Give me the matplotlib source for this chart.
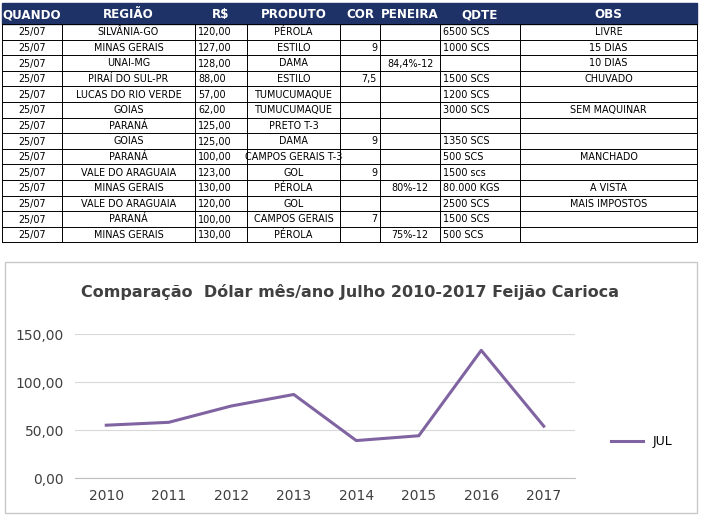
import matplotlib.pyplot as plt
from matplotlib.patches import Rectangle

W, H = 701, 516

headers = ["QUANDO", "REGIÃO", "R$", "PRODUTO", "COR", "PENEIRA", "QDTE", "OBS"]
datas = ["25/07"] * 14
regioes = ["SILVÂNIA-GO", "MINAS GERAIS", "UNAI-MG", "PIRAÍ DO SUL-PR", "LUCAS DO RIO VERDE",
           "GOIAS", "PARANÁ", "GOIAS", "PARANÁ", "VALE DO ARAGUAIA", "MINAS GERAIS",
           "VALE DO ARAGUAIA", "PARANÁ", "MINAS GERAIS"]
precos = ["120,00", "127,00", "128,00", "88,00", "57,00", "62,00", "125,00", "125,00",
          "100,00", "123,00", "130,00", "120,00", "100,00", "130,00"]
produtos = ["PÉROLA", "ESTILO", "DAMA", "ESTILO", "TUMUCUMAQUE", "TUMUCUMAQUE", "PRETO T-3",
            "DAMA", "CAMPOS GERAIS T-3", "GOL", "PÉROLA", "GOL", "CAMPOS GERAIS", "PÉROLA"]
cores = ["", "9", "", "7,5", "", "", "", "9", "", "9", "", "", "7", ""]
peneiras = ["", "", "84,4%-12", "", "", "", "", "", "", "", "80%-12", "", "", "75%-12"]
qtdes = ["6500 SCS", "1000 SCS", "", "1500 SCS", "1200 SCS", "3000 SCS", "", "1350 SCS",
         "500 SCS", "1500 scs", "80.000 KGS", "2500 SCS", "1500 SCS", "500 SCS"]
obs = ["LIVRE", "15 DIAS", "10 DIAS", "CHUVADO", "", "SEM MAQUINAR", "", "", "MANCHADO",
       "", "A VISTA", "MAIS IMPOSTOS", "", ""]

anos = ["2010", "2011", "2012", "2013", "2014", "2015", "2016", "2017"]
jul = [55, 58, 75, 87, 39, 44, 133, 54]

fig = plt.figure(figsize=(W / 100, H / 100), dpi=100)
fig.patch.set_facecolor("white")

# --- tabela (coordenadas em pixels) ---
tab = fig.add_axes([0, 0, 1, 1])
tab.set_xlim(0, W)
tab.set_ylim(H, 0)
tab.axis("off")

col_x = [2, 62, 195, 247, 340, 380, 440, 520, 697]
col_align = ["center", "center", "left", "center", "right", "center", "left", "center"]
top, head_h, row_h = 3, 21, 15.6
tab.add_patch(Rectangle((col_x[0], top), col_x[-1] - col_x[0], head_h, color="#1f3267"))
for i, h in enumerate(headers):
    tab.text((col_x[i] + col_x[i + 1]) / 2, top + head_h / 2 + 1, h, color="white",
             fontsize=8.6, fontweight="bold", ha="center", va="center")

colunas = [datas, regioes, precos, produtos, cores, peneiras, qtdes, obs]
y0 = top + head_h
n = len(datas)
for r in range(n + 1):
    tab.plot([col_x[0], col_x[-1]], [y0 + r * row_h] * 2, color="black", lw=0.7)
for x in col_x:
    tab.plot([x, x], [y0, y0 + n * row_h], color="black", lw=0.7)
for c, vals in enumerate(colunas):
    for r, v in enumerate(vals):
        al = col_align[c]
        if al == "center":
            x = (col_x[c] + col_x[c + 1]) / 2
        elif al == "left":
            x = col_x[c] + 3
        else:
            x = col_x[c + 1] - 3
        tab.text(x, y0 + r * row_h + row_h / 2 + 0.5, v, fontsize=6.9, ha=al, va="center")

# moldura do gráfico
tab.add_patch(Rectangle((5, 262), 692, 251, fill=False, ec="#c8c8c8", lw=1))
tab.text(350, 292, "Comparação  Dólar mês/ano Julho 2010-2017 Feijão Carioca",
         fontsize=11.5, fontweight="semibold", ha="center", va="center", color="#404040")

# --- gráfico de linha ---
ax = fig.add_axes([75 / W, 1 - 478 / H, 500 / W, 144 / H])
ax.plot(range(len(anos)), jul, color="#8064a2", lw=2.2, label="JUL")
ax.set_xlim(-0.5, len(anos) - 0.5)
ax.set_ylim(0, 150)
ax.set_yticks([0, 50, 100, 150])
ax.set_yticklabels(["0,00", "50,00", "100,00", "150,00"])
ax.set_xticks(range(len(anos)))
ax.set_xticklabels(anos)
ax.grid(axis="y", color="#d9d9d9", lw=0.8)
ax.set_axisbelow(True)
for s in ["top", "right", "left"]:
    ax.spines[s].set_visible(False)
ax.spines["bottom"].set_color("#bfbfbf")
ax.tick_params(length=0, labelsize=10, colors="#404040", pad=8)
ax.legend(loc="center left", bbox_to_anchor=(1.05, 0.25), frameon=False, fontsize=9,
          handlelength=2.5)

fig.savefig("out.png", dpi=100)
